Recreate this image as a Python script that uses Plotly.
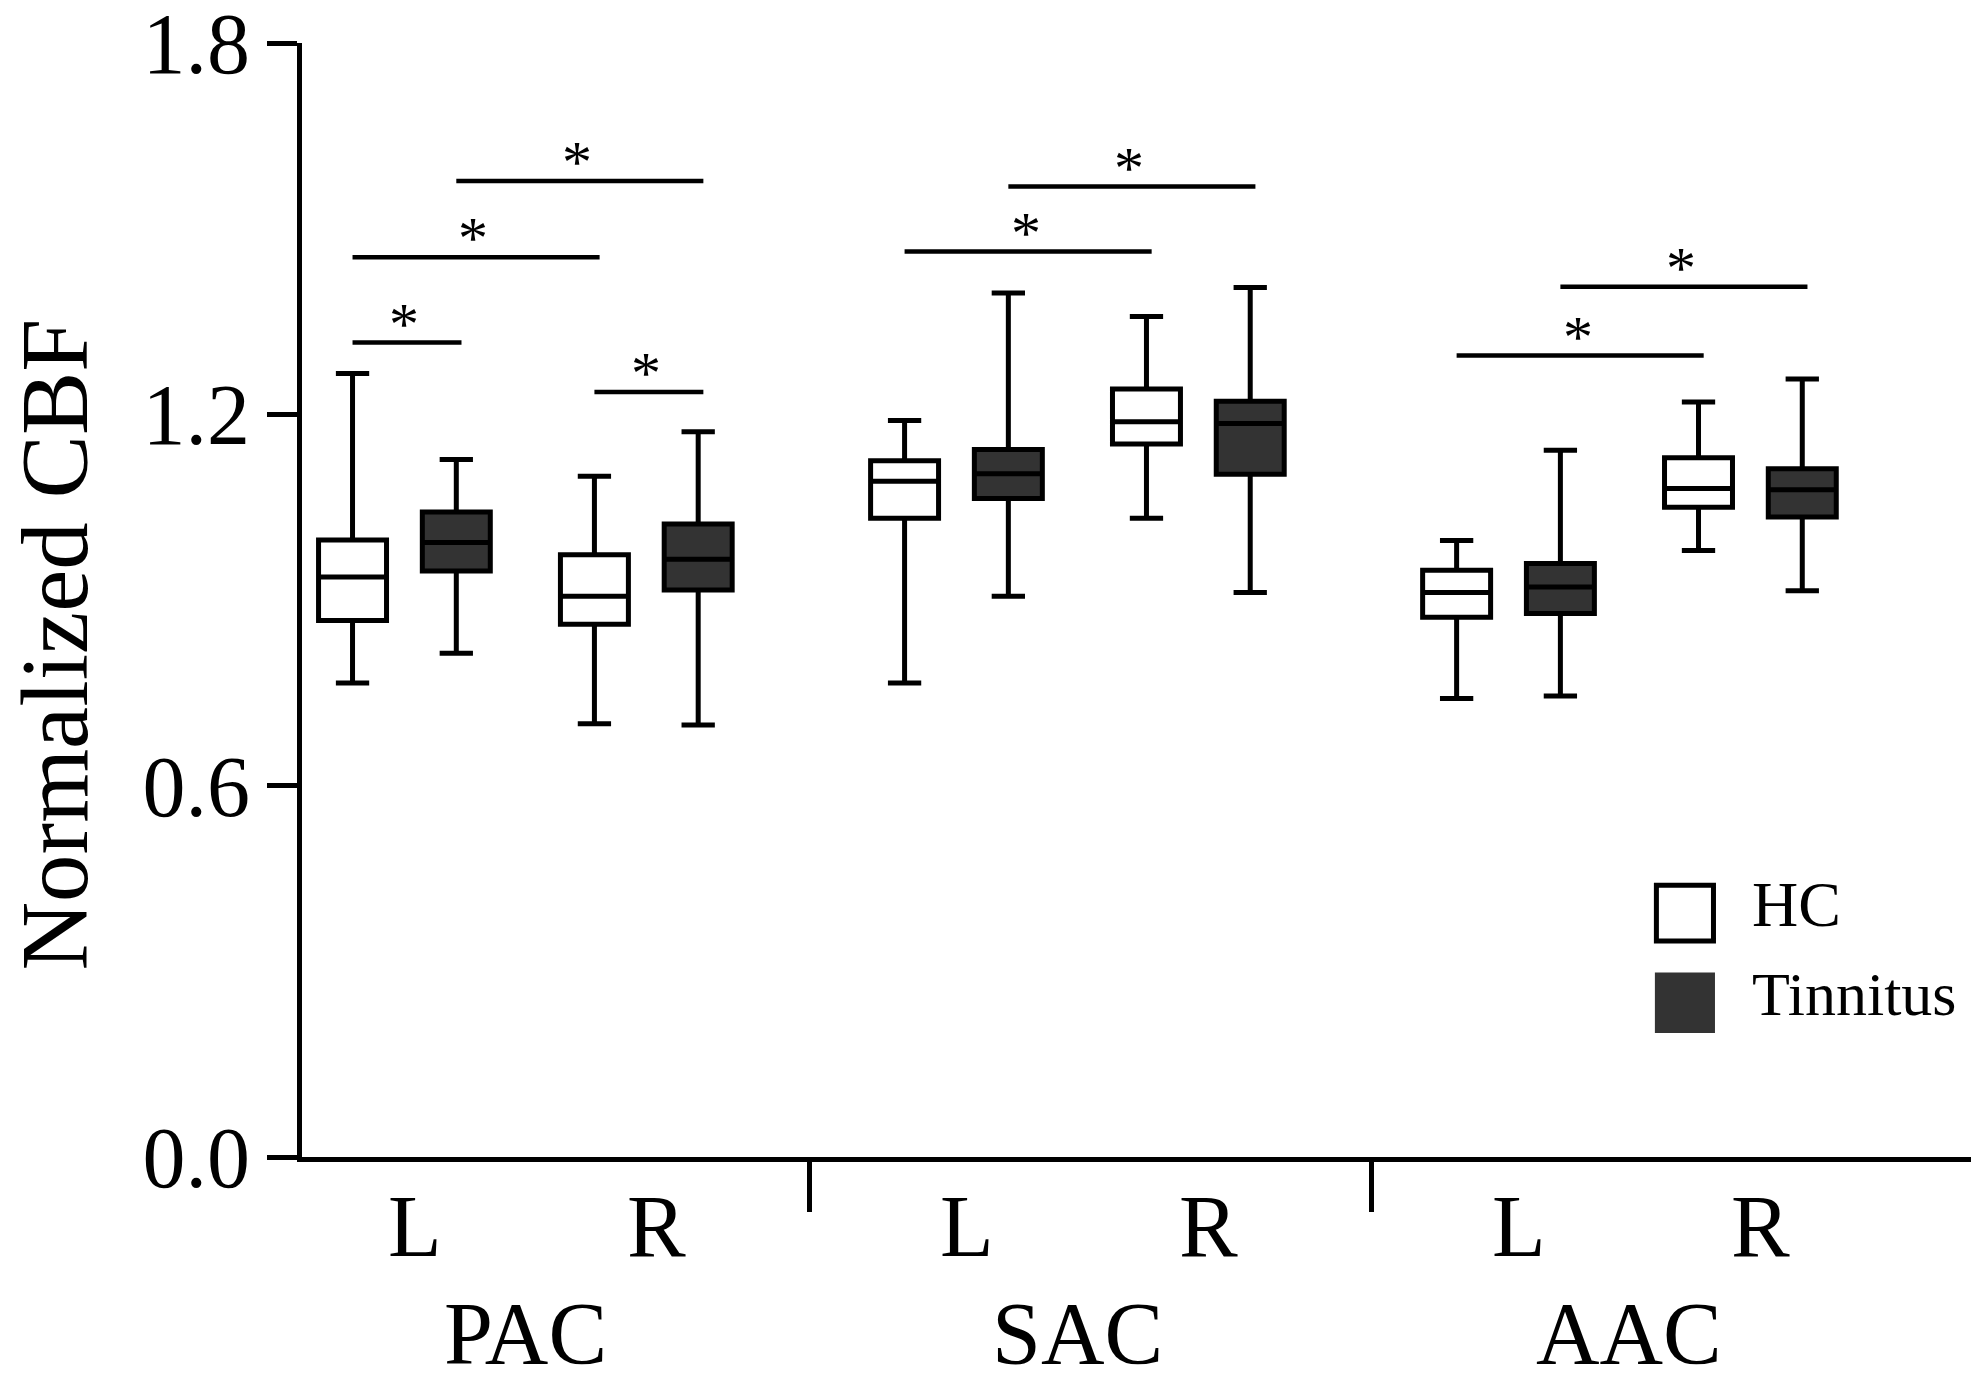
import plotly.graph_objects as go

# box statistics, order: PAC-L, PAC-R, SAC-L, SAC-R, AAC-L, AAC-R
regions = ["PAC", "SAC", "AAC"]
sides = ["L", "R"]

hc_lower = [0.766, 0.700, 0.766, 1.032, 0.741, 0.980]
hc_q1 = [0.867, 0.861, 1.032, 1.152, 0.872, 1.050]
hc_median = [0.937, 0.906, 1.092, 1.188, 0.912, 1.080]
hc_q3 = [0.997, 0.973, 1.125, 1.241, 0.948, 1.130]
hc_upper = [1.266, 1.100, 1.190, 1.358, 0.996, 1.220]

tin_lower = [0.814, 0.698, 0.906, 0.912, 0.745, 0.915]
tin_q1 = [0.947, 0.916, 1.064, 1.103, 0.878, 1.034]
tin_median = [0.993, 0.966, 1.104, 1.185, 0.921, 1.078]
tin_q3 = [1.042, 1.023, 1.143, 1.221, 0.959, 1.112]
tin_upper = [1.127, 1.172, 1.396, 1.405, 1.142, 1.257]

# significance bars (from box, to box, height)
sig_from = ["PAC L HC", "PAC L HC", "PAC L Tinnitus", "PAC R HC",
            "SAC L HC", "SAC L Tinnitus", "AAC L HC", "AAC L Tinnitus"]
sig_to = ["PAC L Tinnitus", "PAC R HC", "PAC R Tinnitus", "PAC R Tinnitus",
          "SAC R HC", "SAC R Tinnitus", "AAC R HC", "AAC R Tinnitus"]
sig_y = [1.316, 1.454, 1.577, 1.236, 1.463, 1.568, 1.295, 1.406]

y_ticks = [0.0, 0.6, 1.2, 1.8]

FONT = "Liberation Serif, Times New Roman, serif"
TIN_FILL = "#333333"

# layout of the categorical x positions
PAIR = 1.0
SIDE = 2.331
GROUP = 5.32
BOX_W = 0.655


def box_x(g, s, c):
    return g * GROUP + s * SIDE + c * PAIR


pos = {}
for g, reg in enumerate(regions):
    for s, side in enumerate(sides):
        pos[f"{reg} {side} HC"] = box_x(g, s, 0)
        pos[f"{reg} {side} Tinnitus"] = box_x(g, s, 1)

hc_x = [box_x(g, s, 0) for g in range(3) for s in range(2)]
tin_x = [box_x(g, s, 1) for g in range(3) for s in range(2)]

fig = go.Figure()
fig.add_trace(go.Box(
    x=hc_x, q1=hc_q1, median=hc_median, q3=hc_q3,
    lowerfence=hc_lower, upperfence=hc_upper,
    name="HC", width=BOX_W, whiskerwidth=0.49,
    fillcolor="white", line=dict(color="black", width=5),
    boxpoints=False, showlegend=False,
))
fig.add_trace(go.Box(
    x=tin_x, q1=tin_q1, median=tin_median, q3=tin_q3,
    lowerfence=tin_lower, upperfence=tin_upper,
    name="Tinnitus", width=BOX_W, whiskerwidth=0.49,
    fillcolor=TIN_FILL, line=dict(color="black", width=5),
    boxpoints=False, showlegend=False,
))

# significance bars with asterisks
for a, b, h in zip(sig_from, sig_to, sig_y):
    x0, x1 = pos[a], pos[b]
    fig.add_shape(type="line", xref="x", yref="y", x0=x0, x1=x1 + 0.05,
                  y0=h, y1=h, line=dict(color="black", width=4.5))
    fig.add_annotation(x=(x0 + x1) / 2, y=h, xref="x", yref="y", text="*",
                       showarrow=False, yanchor="middle", yshift=19,
                       font=dict(family=FONT, size=60, color="black"))

# side and region labels under the axis
for g, reg in enumerate(regions):
    for s, side in enumerate(sides):
        fig.add_annotation(x=box_x(g, s, 0) + PAIR / 2 + 0.1, y=-0.0626, xref="x", yref="paper",
                           text=side, showarrow=False, yanchor="middle",
                           font=dict(family=FONT, size=88, color="black"))
    fig.add_annotation(x=box_x(g, 0, 0) + (SIDE + PAIR) / 2, y=-0.158, xref="x", yref="paper",
                       text=reg, showarrow=False, yanchor="middle",
                       font=dict(family=FONT, size=88, color="black"))

# y-axis title
fig.add_annotation(x=-0.148, y=0.46, xref="paper", yref="paper",
                   text="Normalized CBF", textangle=-90, showarrow=False,
                   xanchor="center", yanchor="middle",
                   font=dict(family=FONT, size=95, color="black"))

# legend drawn by hand
fig.add_shape(type="rect", xref="paper", yref="paper", x0=0.8115, x1=0.8457,
              y0=0.194, y1=0.244, fillcolor="white", line=dict(color="black", width=5))
fig.add_shape(type="rect", xref="paper", yref="paper", x0=0.8106, x1=0.8466,
              y0=0.1113, y1=0.1657, fillcolor=TIN_FILL, line=dict(width=0))
fig.add_annotation(x=0.8675, y=0.2264, xref="paper", yref="paper", text="HC",
                   showarrow=False, xanchor="left", yanchor="middle",
                   font=dict(family=FONT, size=64, color="black"))
fig.add_annotation(x=0.8675, y=0.1466, xref="paper", yref="paper", text="Tinnitus",
                   showarrow=False, xanchor="left", yanchor="middle",
                   font=dict(family=FONT, size=62, color="black"))

# page body has an 8px margin, so the figure is 16px smaller than the window
fig.update_layout(
    width=1967, height=1374,
    margin=dict(l=294, r=4, t=35, b=225),
    paper_bgcolor="white", plot_bgcolor="white",
    boxmode="overlay",
    xaxis=dict(range=[-0.487, 15.597], showgrid=False, zeroline=False,
               showline=True, linecolor="black", linewidth=4.5,
               ticks="outside", ticklen=50, tickwidth=4.5, tickcolor="black",
               tickvals=[4.403, 9.821], ticktext=["", ""], automargin=False),
    yaxis=dict(range=[0, 1.8], showgrid=False, zeroline=False,
               showline=True, linecolor="black", linewidth=4.5,
               ticks="outside", ticklen=30, tickwidth=4.5, tickcolor="black",
               tickvals=y_ticks, ticktext=[f"{v:.1f}" for v in y_ticks],
               ticklabeloverflow="allow", automargin=False,
               tickfont=dict(family=FONT, size=86, color="black")),
)

fig.write_html("out.html")
